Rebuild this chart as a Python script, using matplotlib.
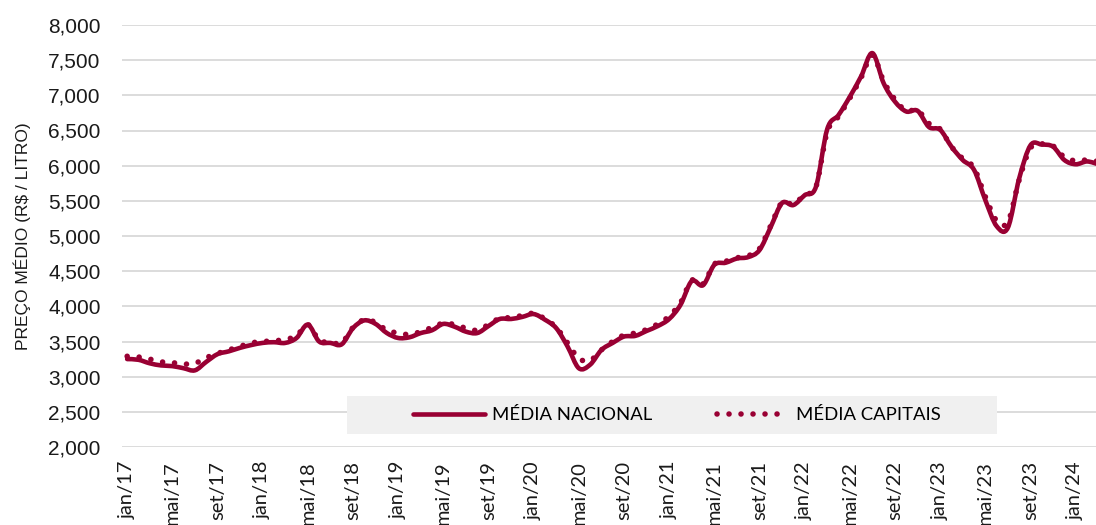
import numpy as np
import matplotlib
matplotlib.use("Agg")
import matplotlib.pyplot as plt
from matplotlib.path import Path
from matplotlib.patches import PathPatch, Rectangle
from matplotlib.lines import Line2D

# preço médio mensal (R$/litro), jan/17 .. mar/24
media_nacional = [
    3.25, 3.24, 3.19, 3.16, 3.15, 3.12, 3.09, 3.21, 3.32, 3.36, 3.41, 3.45,
    3.48, 3.49, 3.48, 3.55, 3.74, 3.50, 3.48, 3.46, 3.69, 3.80, 3.75, 3.62,
    3.55, 3.56, 3.62, 3.66, 3.75, 3.71, 3.64, 3.62, 3.72, 3.82, 3.82, 3.85,
    3.89, 3.81, 3.69, 3.43, 3.12, 3.17, 3.38, 3.48, 3.57, 3.58, 3.65, 3.72,
    3.82, 4.02, 4.36, 4.30, 4.59, 4.62, 4.68, 4.70, 4.80, 5.13, 5.47, 5.44,
    5.58, 5.70, 6.52, 6.72, 6.98, 7.27, 7.60, 7.17, 6.91, 6.77, 6.78, 6.55,
    6.51, 6.27, 6.08, 5.94, 5.51, 5.14, 5.12, 5.82, 6.29, 6.30, 6.27, 6.08,
    6.02, 6.06, 6.02,
]
media_capitais = [
    3.29, 3.28, 3.25, 3.21, 3.20, 3.18, 3.19, 3.27, 3.33, 3.38, 3.43, 3.48,
    3.50, 3.51, 3.53, 3.58, 3.74, 3.52, 3.49, 3.48, 3.70, 3.81, 3.77, 3.66,
    3.62, 3.60, 3.64, 3.70, 3.76, 3.74, 3.69, 3.66, 3.74, 3.83, 3.84, 3.87,
    3.90, 3.82, 3.70, 3.48, 3.26, 3.23, 3.38, 3.50, 3.59, 3.62, 3.67, 3.75,
    3.86, 4.05, 4.37, 4.32, 4.60, 4.64, 4.69, 4.72, 4.82, 5.15, 5.48, 5.45,
    5.59, 5.70, 6.48, 6.70, 6.96, 7.25, 7.57, 7.20, 6.94, 6.78, 6.79, 6.60,
    6.52, 6.27, 6.10, 5.97, 5.56, 5.22, 5.20, 5.80, 6.25, 6.31, 6.28, 6.12,
    6.07, 6.08, 6.06,
]
tick_labels = [
    "jan/17", "mai/17", "set/17", "jan/18", "mai/18", "set/18", "jan/19",
    "mai/19", "set/19", "jan/20", "mai/20", "set/20", "jan/21", "mai/21",
    "set/21", "jan/22", "mai/22", "set/22", "jan/23", "mai/23", "set/23",
    "jan/24",
]
y_ticks = [2.0, 2.5, 3.0, 3.5, 4.0, 4.5, 5.0, 5.5, 6.0, 6.5, 7.0, 7.5, 8.0]

COR = "#990033"
PONTILHADO = (0, (0.01, 2.15))


def curva_suave(x, y):
    # curva bezier tipo "linha suavizada" do Excel
    x = np.asarray(x, float)
    y = np.asarray(y, float)
    px = np.concatenate([[x[0]], x, [x[-1]]])
    py = np.concatenate([[y[0]], y, [y[-1]]])
    verts = [(x[0], y[0])]
    codes = [Path.MOVETO]
    for i in range(1, len(x)):
        c1 = (px[i] + (px[i + 1] - px[i - 1]) / 6, py[i] + (py[i + 1] - py[i - 1]) / 6)
        c2 = (px[i + 1] - (px[i + 2] - px[i]) / 6, py[i + 1] - (py[i + 2] - py[i]) / 6)
        verts += [c1, c2, (px[i + 1], py[i + 1])]
        codes += [Path.CURVE4] * 3
    return Path(verts, codes)


x = np.arange(len(media_nacional))

fig = plt.figure(figsize=(10.96, 5.25), dpi=100)
ax = fig.add_axes([121.5 / 1096, 78 / 525, 974.5 / 1096, 422 / 525])

ax.set_xlim(-0.5, 85.8)
ax.set_ylim(2.0, 8.0)
ax.set_yticks(y_ticks)
ax.set_yticklabels([f"{v:.3f}".replace(".", ",") for v in y_ticks],
                   fontfamily="Liberation Sans", fontsize=15, color="#1a1a1a")
ax.set_xticks(np.arange(0, len(tick_labels) * 4, 4))
ax.set_xticklabels(tick_labels, rotation=90, fontfamily="Lato", fontsize=14.5, color="#1a1a1a")
ax.tick_params(length=0)
ax.tick_params(axis="x", pad=10)
ax.tick_params(axis="y", pad=15)
for s in ax.spines.values():
    s.set_visible(False)
ax.grid(axis="y", color="#d9d9d9", linewidth=1.3, zorder=0)
ax.set_axisbelow(True)
ax.set_ylabel("PREÇO MÉDIO (R$ / LITRO)", fontfamily="Liberation Sans", fontsize=12.5,
              color="#1a1a1a", labelpad=12)

ax.add_patch(Rectangle((0.2314, 0.0308), 0.667, 0.090, transform=ax.transAxes,
                       facecolor="#f0f0f0", edgecolor="none", zorder=1))

ax.add_patch(PathPatch(curva_suave(x, media_nacional), fill=False, edgecolor=COR,
                       linewidth=3.3, capstyle="round", joinstyle="round", zorder=3))
ax.add_patch(PathPatch(curva_suave(x, media_capitais), fill=False, edgecolor=COR,
                       linewidth=4.0, linestyle=PONTILHADO, capstyle="round", zorder=4))

handles = [
    Line2D([], [], color=COR, linewidth=3.3, solid_capstyle="round"),
    Line2D([], [], color=COR, linewidth=4.0, linestyle=PONTILHADO, dash_capstyle="round"),
]
ax.legend(handles, ["MÉDIA NACIONAL", "MÉDIA CAPITAIS"], loc="center",
          bbox_to_anchor=(0.57, 0.0758), ncol=2, frameon=False,
          handlelength=3.9, columnspacing=3.5, handletextpad=0.4,
          prop={"family": "Lato", "size": 13.3})

fig.savefig("out.png", dpi=100)
